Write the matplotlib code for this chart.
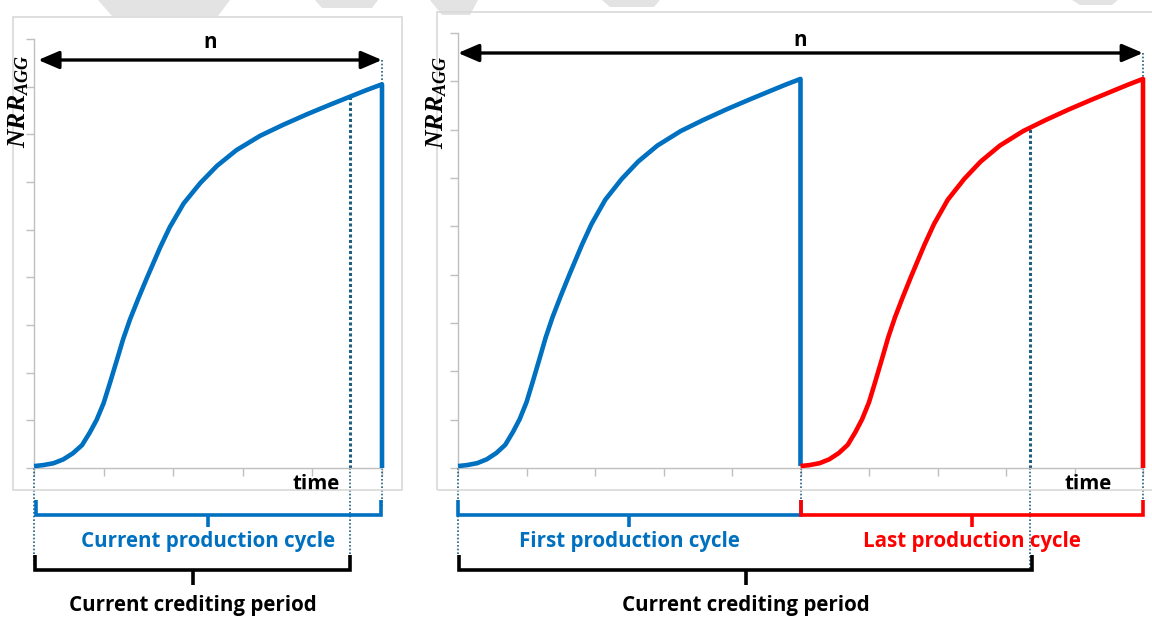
import numpy as np
import matplotlib
matplotlib.use("Agg")
import matplotlib.pyplot as plt
import matplotlib.patches as mpatches
import matplotlib.transforms as mtransforms

plt.rcParams['mathtext.fontset'] = 'custom'
plt.rcParams['mathtext.it'] = 'Liberation Serif:italic:bold'
plt.rcParams['mathtext.rm'] = 'Liberation Serif:bold'

# one production cycle (time in tick units, NRR in tick units)
cycle_t = [0.0, 0.13, 0.28, 0.42, 0.56, 0.69, 0.80, 0.90, 1.00, 1.09, 1.19, 1.28,
           1.38, 1.50, 1.62, 1.70, 1.81, 1.95, 2.15, 2.39, 2.63, 2.91, 3.25, 3.58,
           3.92, 4.25, 4.54, 4.78, 5.0]
cycle_nrr = [0.04, 0.06, 0.10, 0.18, 0.31, 0.48, 0.74, 1.01, 1.36, 1.78, 2.26, 2.70,
             3.12, 3.56, 3.98, 4.25, 4.62, 5.05, 5.55, 5.98, 6.34, 6.67, 6.97, 7.20,
             7.42, 7.62, 7.79, 7.93, 8.05]
cycle_len = 5.0
credit_end_left = 4.54      # end of crediting period, left chart
credit_end_right = 8.35     # end of crediting period, right chart

blue = '#0070c0'
red = '#ff0000'
dots = '#1f5f7f'
grey = '#bfbfbf'
W, H = 1152, 617

fig = plt.figure(figsize=(W / 100, H / 100), dpi=100)


def fy(py):
    return 1 - py / H


def fr(px0, py0, px1, py1):
    return [px0 / W, fy(py1), (px1 - px0) / W, (py1 - py0) / H]


# faint watermark pieces at the top
for poly in [[(98, 0), (230, 0), (218, 16), (112, 16)],
             [(315, 0), (378, 0), (372, 8), (322, 8)],
             [(430, 0), (478, 0), (470, 15), (442, 15)],
             [(602, 0), (660, 0), (654, 7), (610, 7)],
             [(1072, 0), (1118, 0), (1112, 5), (1080, 5)]]:
    fig.patches.append(mpatches.Polygon([(x / W, fy(y)) for x, y in poly], closed=True,
                                        transform=fig.transFigure, fc='#e3e3e3', ec='none'))

# chart frames
fig.patches.append(mpatches.Rectangle((13 / W, fy(490)), 389 / W, 473 / H, transform=fig.transFigure,
                                      fill=False, ec='#d9d9d9', lw=1.2))
fig.patches.append(mpatches.Rectangle((437 / W, fy(490)), 730 / W, 478 / H, transform=fig.transFigure,
                                      fill=False, ec='#d9d9d9', lw=1.2))

ax1 = fig.add_axes(fr(34, 39, 382, 468))
ax2 = fig.add_axes(fr(458, 33, 1143, 468))


def style(ax, ncyc):
    ax.set_xlim(0, cycle_len * ncyc)
    ax.set_ylim(0, 9)
    ax.set_xticks(np.arange(0, cycle_len * ncyc + 0.1, 1))
    ax.set_yticks(np.arange(0, 10, 1))
    ax.tick_params(colors=grey, length=6, width=1, labelleft=False, labelbottom=False)
    for s in ['top', 'right']:
        ax.spines[s].set_visible(False)
    for s in ['left', 'bottom']:
        ax.spines[s].set_color(grey)
        ax.spines[s].set_linewidth(1)
    ax.patch.set_alpha(0)


style(ax1, 1)
style(ax2, 2)

t = np.array(cycle_t)
nrr = np.array(cycle_nrr)
tx = np.append(t, cycle_len)
ny = np.append(nrr, 0)

kw = dict(lw=3.3, clip_on=False, solid_joinstyle='round', solid_capstyle='butt')
ax1.plot(tx, ny, color=blue, zorder=3, **kw)
ax2.plot(tx, np.append(nrr, nrr[0]), color=blue, zorder=3, **kw)
ax2.plot(tx + cycle_len, ny, color=red, zorder=4, **kw)

font = dict(family=['Open Sans', 'DejaVu Sans'], fontweight='bold')
fs = 14.8


def bracket(ax, x0, x1, y, color, label, ly, tick_up=15, tick_dn=12):
    tr = mtransforms.blended_transform_factory(ax.transData, fig.transFigure)
    up = tick_up / H
    dn = tick_dn / H
    yy = fy(y)
    ax.plot([x0, x0, x1, x1], [yy + up, yy, yy, yy + up], color=color, lw=2.6,
            transform=tr, clip_on=False, solid_joinstyle='miter', solid_capstyle='butt')
    xm = (x0 + x1) / 2
    ax.plot([xm, xm], [yy, yy - dn], color=color, lw=2.6, transform=tr, clip_on=False,
            solid_capstyle='butt')
    ax.text(xm, fy(ly), label, color=color, fontsize=fs, ha='center', va='center',
            transform=tr, **font)


def vdots(ax, x, y0, y1, lw=1.2):
    tr = mtransforms.blended_transform_factory(ax.transData, fig.transFigure)
    ax.plot([x, x], [fy(y0), fy(y1)], color=dots, lw=lw, ls=(0, (1, 1.2)),
            transform=tr, clip_on=False, zorder=2)


def darrow(ax, x0, x1, py, npy):
    tr = mtransforms.blended_transform_factory(ax.transData, fig.transFigure)
    ax.annotate('', xy=(x1, fy(py)), xytext=(x0, fy(py)), xycoords=tr, textcoords=tr,
                arrowprops=dict(arrowstyle='<|-|>,head_length=0.7,head_width=0.3',
                                color='black', lw=2.4, shrinkA=0, shrinkB=0,
                                mutation_scale=18))
    ax.text((x0 + x1) / 2, fy(npy), 'n', color='black', fontsize=fs, ha='center',
            va='center', transform=tr, **font)


# left chart annotations
ax1.plot([credit_end_left] * 2, [0, np.interp(credit_end_left, t, nrr)], color=dots, lw=2.2,
         ls=(0, (1, 0.8)), zorder=2)
vdots(ax1, 0, 468, 566)
vdots(ax1, credit_end_left, 468, 570)
vdots(ax1, cycle_len, 468, 506)
vdots(ax1, cycle_len, 60, 83)
darrow(ax1, 0.06, cycle_len, 60, 43)
bracket(ax1, 0.03, cycle_len - 0.02, 515, blue, 'Current production cycle', 542)
bracket(ax1, 0.02, credit_end_left, 570, 'black', 'Current crediting period', 606, tick_dn=15)
ax1.text(4.05, fy(484), 'time', color='black', fontsize=fs, ha='center', va='center',
         transform=mtransforms.blended_transform_factory(ax1.transData, fig.transFigure), **font)
fig.text(18 / W, fy(101), r'$NRR_{AGG}$', rotation=90, ha='center', va='center', fontsize=18.5)

# right chart annotations
ax2.plot([credit_end_right] * 2,
         [0, np.interp(credit_end_right - cycle_len, t, nrr)], color=dots, lw=2.2,
         ls=(0, (1, 0.8)), zorder=2)
vdots(ax2, 0, 468, 556)
vdots(ax2, cycle_len, 468, 506)
vdots(ax2, 2 * cycle_len, 468, 506)
vdots(ax2, 2 * cycle_len, 53, 77)
vdots(ax2, credit_end_right, 468, 570)
darrow(ax2, 0, 2 * cycle_len, 53, 40)
bracket(ax2, 0, cycle_len, 515, blue, 'First production cycle', 542)
bracket(ax2, cycle_len, 2 * cycle_len, 515, red, 'Last production cycle', 542)
bracket(ax2, 0.02, credit_end_right + 0.03, 570, 'black', 'Current crediting period', 606,
        tick_dn=15)
ax2.text(9.2, fy(484), 'time', color='black', fontsize=fs, ha='center', va='center',
         transform=mtransforms.blended_transform_factory(ax2.transData, fig.transFigure), **font)
fig.text(436 / W, fy(102), r'$NRR_{AGG}$', rotation=90, ha='center', va='center', fontsize=18.5)

fig.savefig('out.png', dpi=100)
